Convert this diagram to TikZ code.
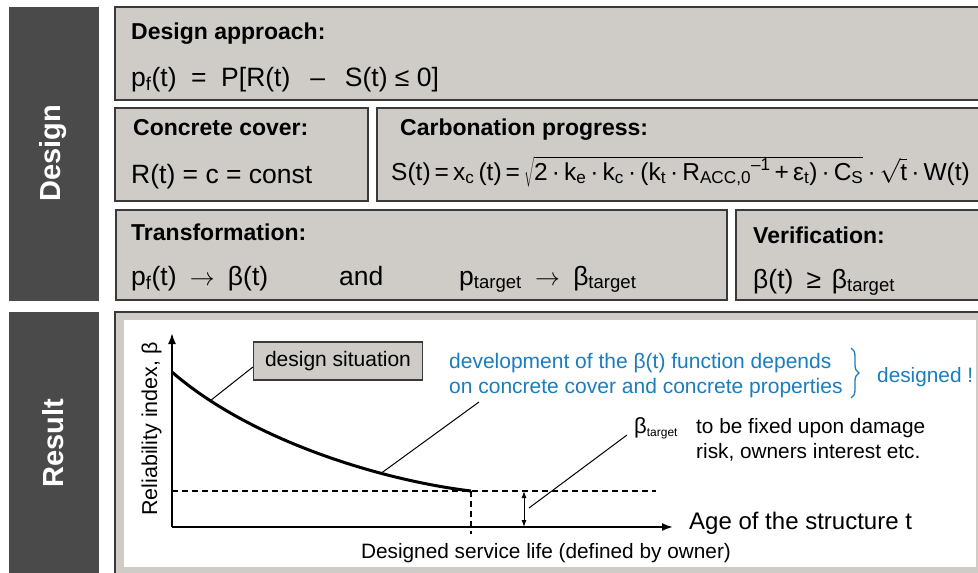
\documentclass[tikz,border=0pt]{standalone}
\usepackage{fontspec}
\setmainfont{Liberation Sans}
\usetikzlibrary{arrows.meta,decorations.pathreplacing}
\definecolor{barc}{HTML}{4A4A4A}
\definecolor{boxc}{HTML}{CFCCC7}
\definecolor{edgec}{HTML}{3A3A3A}
\definecolor{bluec}{HTML}{1B7DBE}
\tikzset{
  bar/.style={fill=barc,draw=none},
  panel/.style={fill=boxc,draw=edgec,line width=1.5pt},
  bartxt/.style={font=\fontsize{29}{33}\selectfont\bfseries,text=white,rotate=90,inner sep=0},
  ttl/.style={font=\fontsize{23}{27}\selectfont\bfseries,anchor=base west,inner sep=0},
  fml/.style={font=\fontsize{26.5}{30}\selectfont,anchor=base west,inner sep=0},
  lbl/.style={font=\fontsize{20.8}{24}\selectfont,anchor=base west,inner sep=0},
  bluetxt/.style={lbl,text=bluec},
  thinline/.style={line width=1pt,draw=black},
  axis/.style={line width=1.8pt,-{Latex[length=11pt,width=8pt]}},
  dashline/.style={line width=1.3pt,dash pattern=on 6pt off 4pt},
}
\begin{document}
\begin{tikzpicture}[x=1pt,y=-1pt]
\useasboundingbox (0,0) rectangle (978,573);
\clip (0,0) rectangle (978,573);
\fill[white] (0,0) rectangle (978,573);
% side bars
\fill[bar] (9,7) rectangle (99,301);
\fill[bar] (9,312) rectangle (99,580);
\node[bartxt] (design) at (53,153) {Design};
\node[bartxt] (result) at (53,443) {Result};
% design panels
\draw[panel] (115,7) rectangle (995,100);
\draw[panel] (115,108) rectangle (368,201);
\draw[panel] (377,108) rectangle (995,201);
\draw[panel] (116,210) rectangle (727,300);
\draw[panel] (736,210) rectangle (995,300);
% texts
\node[ttl] (tda) at (131,39) {Design approach:};
\node[fml] (fda) at (131,86) {p\textsubscript{f}(t)\hspace{0.55em}=\hspace{0.55em}P[R(t)\hspace{0.75em}–\hspace{0.75em}S(t) ≤ 0]};
\node[ttl] (tcc) at (133,135) {Concrete cover:};
\node[fml] (fcc) at (131,183) {R(t) = c = const};
\node[ttl] (tcp) at (400,135) {Carbonation progress:};
\node[fml,font=\fontsize{24.5}{29}\selectfont] (fcp) at (391,180) {S(t)\,=\,x\textsubscript{c}\,(t)\,=\,$\sqrt{\hbox{2\,·\,k\textsubscript{e}\,·\,k\textsubscript{c}\,·\,(k\textsubscript{t}\,·\,R\textsubscript{ACC,0}\textsuperscript{–1}\,+\,ε\textsubscript{t})\,·\,C\textsubscript{S}}}$\,·\,$\sqrt{\hbox{t}}$\,·\,W(t)};
\node[ttl] (ttr) at (131,240) {Transformation:};
\node[fml] (ftr1) at (131,285) {p\textsubscript{f}(t)\hspace{0.5em}$\rightarrow$\hspace{0.5em}β(t)};
\node[fml] (ftr2) at (339,285) {and};
\node[fml] (ftr3) at (459,285) {p\textsubscript{target}\hspace{0.5em}$\rightarrow$\hspace{0.5em}β\textsubscript{target}};
\node[ttl] (tvf) at (753,243) {Verification:};
\node[fml] (fvf) at (753,288) {β(t)\hspace{0.5em}≥\hspace{0.4em}β\textsubscript{target}};
% result panel
\fill[boxc] (115,312) rectangle (995,580);
\draw[edgec,line width=1.5pt] (115,580) -- (115,312) -- (995,312);
\fill[white] (124,320) rectangle (976,567);
% plot
\coordinate (origin) at (172,527);
\coordinate (ytip) at (172,333);
\coordinate (xtip) at (673,527);
\coordinate (cstart) at (172,372);
\coordinate (cend) at (471,491);
\coordinate (dend) at (656,491);
\coordinate (vend) at (471,534);
\draw[axis] (origin) -- (ytip);
\draw[axis] (origin) -- (xtip);
\draw[dashline] (cstart |- cend) -- (dend);
\draw[dashline] (cend) -- (vend);
\draw[line width=3pt] (cstart) .. controls (250,440) and (380,480) .. (cend)
   coordinate[pos=0.15] (c1) coordinate[pos=0.7] (c2);
\coordinate (ba) at (524,491);
\coordinate (bb) at (524,527);
\draw[line width=1pt,{Latex[length=7pt,width=5pt]}-{Latex[length=7pt,width=5pt]}] (ba) -- (bb);
\node[lbl,font=\fontsize{21.5}{24}\selectfont,rotate=90,anchor=base] (yl) at (157,429) {Reliability index, β};
\node[lbl,font=\fontsize{24}{28}\selectfont] (xl) at (689,529) {Age of the structure t};
\node[lbl,anchor=base] (dsl) at (546,558) {Designed service life (defined by owner)};
\node[fill=boxc,draw=edgec,line width=1.2pt,minimum width=169pt,minimum height=38pt,inner sep=0,font=\fontsize{21}{24}\selectfont] (ds) at (338,361) {design situation};
\draw[thinline] ([yshift=-6pt]ds.west) -- (c1);
\node[bluetxt,font=\fontsize{21}{24}\selectfont] (b1) at (449,368) {development of the β(t) function depends};
\node[bluetxt,font=\fontsize{21}{24}\selectfont] (b2) at (449,393) {on concrete cover and concrete properties};
\coordinate (b2p) at (479,402);
\draw[thinline] (b2p) -- (c2);
\draw[bluec,line width=1.3pt,decorate,decoration={brace,amplitude=8pt}] (851,348) -- (851,398);
\node[bluetxt] (dsg) at (877,382) {designed !};
\node[lbl,font=\fontsize{22}{24}\selectfont] (bt) at (634,433) {β\textsubscript{\fontsize{12}{14}\selectfont target}};
\coordinate (btp) at (627,435);
\coordinate (bap) at (529,508);
\draw[thinline] (bap) -- (btp);
\node[lbl] (fx1) at (696,433) {to be fixed upon damage};
\node[lbl] (fx2) at (696,458) {risk, owners interest etc.};
\end{tikzpicture}
\end{document}
